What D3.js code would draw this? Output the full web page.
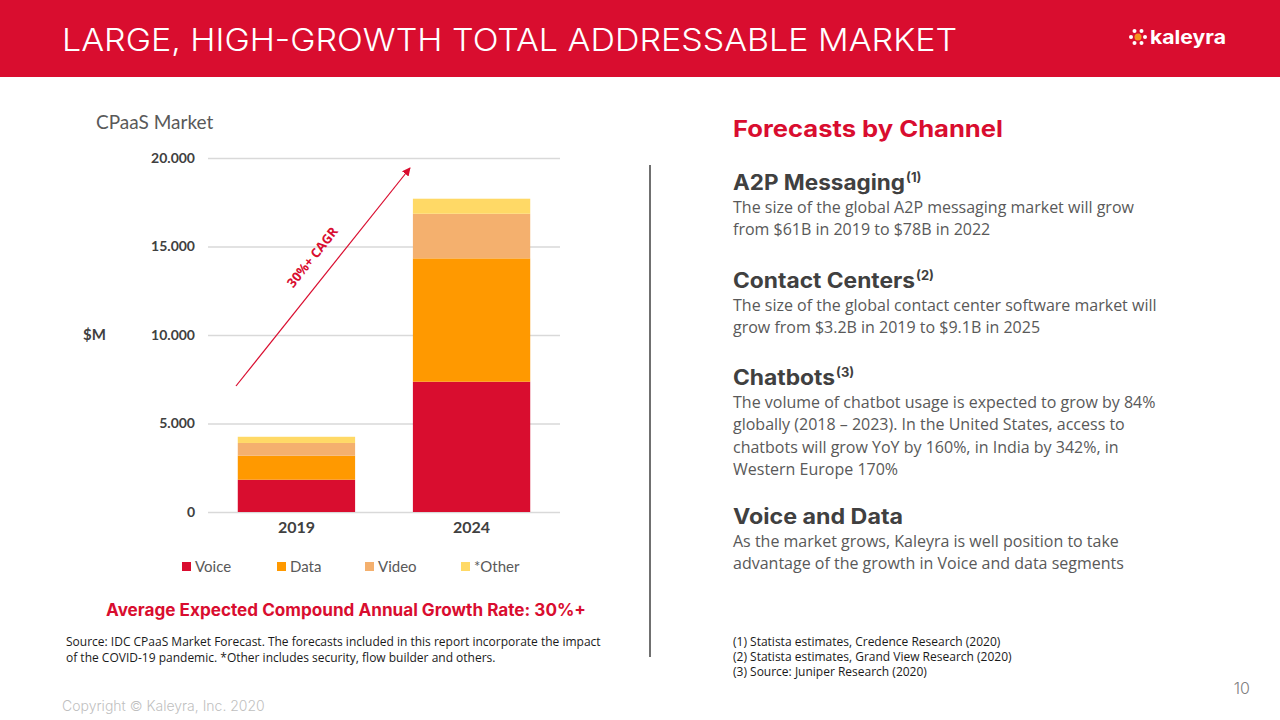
<!DOCTYPE html>
<html><head><meta charset="utf-8">
<script src="https://cdn.jsdelivr.net/npm/d3@7"></script>
<style>
html,body{margin:0;padding:0;background:#fff;}
svg{display:block;}
</style></head>
<body>
<svg id="c" width="1280" height="720"></svg>
<script>
// ---- data ----
const categories = ["2019", "2024"];
const seriesNames = ["Voice", "Data", "Video", "*Other"];
const voice = [1825, 7360];
const dataSeg = [1355, 6970];
const video = [720, 2520];
const other = [350, 850];
const yTicks = [0, 5000, 10000, 15000, 20000];
const seriesColors = ["#D90D2F", "#FF9900", "#F4B06E", "#FFD966"];

const svg = d3.select("#c");
const RED = "#D90D2F";

// header band
svg.append("rect").attr("x",0).attr("y",0).attr("width",1280).attr("height",77).attr("fill",RED);
svg.append("text").attr("x",62).attr("y",51).attr("fill","#fff")
  .attr("font-family","Inter, 'Open Sans', sans-serif").attr("font-weight",300).attr("font-size",31)
  .attr("textLength",895).attr("lengthAdjust","spacingAndGlyphs")
  .text("LARGE, HIGH-GROWTH TOTAL ADDRESSABLE MARKET");

// logo
const logo = svg.append("g").attr("transform","translate(1138,37)");
d3.range(6).forEach(i=>{
  const a = i*60*Math.PI/180;
  logo.append("circle").attr("cx",7*Math.cos(a)).attr("cy",7*Math.sin(a)).attr("r",2).attr("fill","#fff");
});
logo.append("circle").attr("r",3.5).attr("fill","#F7931E");
svg.append("text").attr("x",1150).attr("y",44).attr("fill","#fff")
  .attr("font-family","Inter, sans-serif").attr("font-weight",700).attr("font-size",19)
  .attr("textLength",76).attr("lengthAdjust","spacingAndGlyphs").text("kaleyra");

// ---- chart ----
const y = d3.scaleLinear().domain([0,20000]).range([512,158]);
const x = d3.scaleBand().domain(categories).range([208,560]).paddingInner(0.33).paddingOuter(0.17);
const loc = d3.formatLocale({decimal:",", thousands:".", grouping:[3], currency:["$",""]});
const fmt = loc.format(",");

const chartFont = "Lato, 'Open Sans', sans-serif";
svg.append("text").attr("x",96).attr("y",129).attr("fill","#595959")
  .attr("font-family",chartFont).attr("font-size",19).text("CPaaS Market");
svg.append("text").attr("x",83).attr("y",340).attr("fill","#404040")
  .attr("font-family",chartFont).attr("font-weight",700).attr("font-size",15).text("$M");

const yAxis = d3.axisLeft(y).tickValues(yTicks).tickFormat(fmt).tickSize(-352).tickPadding(13);
const gy = svg.append("g").attr("transform","translate(208,0)").call(yAxis);
gy.select(".domain").remove();
gy.selectAll(".tick line").attr("stroke","#D9D9D9").attr("stroke-width",1.3);
gy.selectAll(".tick text").attr("fill","#404040").attr("font-family",chartFont)
  .attr("font-weight",700).attr("font-size",14);

const rows = categories.map((c,i)=>({cat:c, Voice:voice[i], Data:dataSeg[i], Video:video[i], "*Other":other[i]}));
const stacked = d3.stack().keys(seriesNames)(rows);
const color = d3.scaleOrdinal().domain(seriesNames).range(seriesColors);
svg.append("g").selectAll("g").data(stacked).join("g").attr("fill",d=>color(d.key))
  .selectAll("rect").data(d=>d).join("rect")
  .attr("x",d=>x(d.data.cat)).attr("width",x.bandwidth())
  .attr("y",d=>y(d[1])).attr("height",d=>y(d[0])-y(d[1]));

const xAxis = d3.axisBottom(x).tickSize(0).tickPadding(10);
const gx = svg.append("g").attr("transform","translate(0,512)").call(xAxis);
gx.select(".domain").remove();
gx.selectAll(".tick text").attr("fill","#404040").attr("font-family",chartFont)
  .attr("font-weight",700).attr("font-size",16);

// legend
const legX = [182, 277, 365, 461];
const leg = svg.append("g").selectAll("g").data(seriesNames).join("g")
  .attr("transform",(d,i)=>`translate(${legX[i]},567)`);
leg.append("rect").attr("x",0).attr("y",-5).attr("width",9).attr("height",9).attr("fill",d=>color(d));
leg.append("text").attr("x",13).attr("y",5).attr("fill","#595959")
  .attr("font-family",chartFont).attr("font-size",15).text(d=>d);

// CAGR arrow
const defs = svg.append("defs");
defs.append("marker").attr("id","ah").attr("viewBox","0 0 10 10").attr("refX",9).attr("refY",5)
  .attr("markerWidth",7).attr("markerHeight",7).attr("orient","auto")
  .append("path").attr("d","M0,0L10,5L0,10z").attr("fill",RED);
svg.append("line").attr("x1",236).attr("y1",386).attr("x2",410).attr("y2",168)
  .attr("stroke",RED).attr("stroke-width",1.2).attr("marker-end","url(#ah)");
svg.append("text").attr("transform","translate(316,260) rotate(-51.4)")
  .attr("text-anchor","middle").attr("fill",RED).attr("font-family","'Open Sans', sans-serif")
  .attr("font-weight",700).attr("font-size",13).text("30%+ CAGR");

// bottom-left texts
svg.append("text").attr("x",346).attr("y",616).attr("text-anchor","middle").attr("fill",RED)
  .attr("font-family","Inter, sans-serif").attr("font-weight",700).attr("font-size",17)
  .attr("textLength",480).attr("lengthAdjust","spacingAndGlyphs")
  .text("Average Expected Compound Annual Growth Rate: 30%+");
const srcFont = "'Open Sans', sans-serif";
["Source: IDC CPaaS Market Forecast. The forecasts included in this report incorporate the impact",
 "of the COVID-19 pandemic. *Other includes security, flow builder and others."].forEach((t,i)=>{
  svg.append("text").attr("x",66).attr("y",646+i*16).attr("fill","#1a1a1a")
    .attr("font-family",srcFont).attr("font-size",12).text(t);
});
svg.append("text").attr("x",62).attr("y",711).attr("fill","#BFBFBF")
  .attr("font-family","Inter, sans-serif").attr("font-weight",300).attr("font-size",14).text("Copyright © Kaleyra, Inc. 2020");
svg.append("text").attr("x",1250).attr("y",694).attr("text-anchor","end").attr("fill","#808080")
  .attr("font-family","Inter, sans-serif").attr("font-weight",300).attr("font-size",16).text("10");

// divider
svg.append("line").attr("x1",650).attr("x2",650).attr("y1",165).attr("y2",657)
  .attr("stroke","#404040").attr("stroke-width",1.5);

// right panel
svg.append("text").attr("x",733).attr("y",137).attr("fill",RED)
  .attr("font-family","Inter, sans-serif").attr("font-weight",700).attr("font-size",23)
  .attr("textLength",270).attr("lengthAdjust","spacingAndGlyphs").text("Forecasts by Channel");

const sections = [
  {h:"A2P Messaging", sup:"(1)", hy:190, hw:172, lines:["The size of the global A2P messaging market will grow","from $61B in 2019 to $78B in 2022"]},
  {h:"Contact Centers", sup:"(2)", hy:288, hw:182, lines:["The size of the global contact center software market will","grow from $3.2B in 2019 to $9.1B in 2025"]},
  {h:"Chatbots", sup:"(3)", hy:385, hw:102, lines:["The volume of chatbot usage is expected to grow by 84%","globally (2018 – 2023). In the United States, access to","chatbots will grow YoY by 160%, in India by 342%, in","Western Europe 170%"]},
  {h:"Voice and Data", sup:"", hy:524, hw:170, lines:["As the market grows, Kaleyra is well position to take","advantage of the growth in Voice and data segments"]}
];
sections.forEach(s=>{
  svg.append("text").attr("x",733).attr("y",s.hy).attr("fill","#404040")
    .attr("font-family","Inter, sans-serif").attr("font-weight",700).attr("font-size",21)
    .attr("textLength",s.hw).attr("lengthAdjust","spacingAndGlyphs").text(s.h);
  if (s.sup) svg.append("text").attr("x",733+s.hw+1).attr("y",s.hy-8).attr("fill","#404040")
    .attr("font-family","Inter, sans-serif").attr("font-weight",700).attr("font-size",13).text(s.sup);
  s.lines.forEach((t,i)=>{
    svg.append("text").attr("x",733).attr("y",s.hy+23+i*22.3).attr("fill","#595959")
      .attr("font-family","'Open Sans', sans-serif").attr("font-size",16).text(t);
  });
});
["(1) Statista estimates, Credence Research (2020)","(2) Statista estimates, Grand View Research (2020)","(3) Source: Juniper Research (2020)"].forEach((t,i)=>{
  svg.append("text").attr("x",733).attr("y",646+i*15).attr("fill","#1a1a1a")
    .attr("font-family",srcFont).attr("font-size",12).text(t);
});
</script>
</body></html>
